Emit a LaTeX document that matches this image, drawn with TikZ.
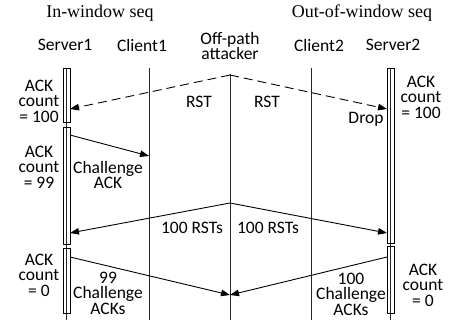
\documentclass[tikz,border=0pt]{standalone}
\usepackage{fontspec}
\setmainfont{Liberation Serif}
\setsansfont{Carlito}
\usetikzlibrary{positioning,arrows.meta}

\begin{document}
\begin{tikzpicture}[
    x=1pt, y=-1pt,
    lifeline/.style={line width=0.8pt, black!85},
    actbox/.style={draw, line width=0.7pt},
    msg/.style={-{Triangle[length=9pt, width=6.5pt]}, line width=0.9pt},
    rstmsg/.style={msg, dash pattern=on 9pt off 5pt},
    txt/.style={font=\sffamily\fontsize{17.5}{15.5}\selectfont, align=center, inner sep=0pt},
    head/.style={font=\rmfamily\fontsize{18}{20}\selectfont, inner sep=0pt}
]
\useasboundingbox (0,0) rectangle (453,322);

% Headers
\node[head] (inwin) at (100,13) {In-window seq};
\node[head] (outwin) at (362,13) {Out-of-window seq};

% Roles
\node[txt] (server1) at (65,45) {Server1};
\node[txt] (client1) at (142,45) {Client1};
\node[txt] (attacker) at (230,46) {Off-path\\attacker};
\node[txt] (client2) at (319,45) {Client2};
\node[txt] (server2) at (393,45) {Server2};

% Lifelines
\draw[lifeline] (66.5,68) -- (66.5,320);
\draw[lifeline] (149,68) -- (149,320);
\draw[lifeline] (230,74) -- (230,320);
\draw[lifeline] (311,68) -- (311,320);
\draw[lifeline] (390.5,68) -- (390.5,320);

% Activation boxes
\draw[actbox] (63,68) rectangle (70,122);
\draw[actbox] (63,127) rectangle (70,244);
\draw[actbox] (63,248) rectangle (70,313);
\draw[actbox] (387,68) rectangle (394,243);
\draw[actbox] (387,246) rectangle (394,313);

% Message ends
\coordinate (atk rst) at (230,75);
\coordinate (s1 rst) at (70,109);
\coordinate (s2 rst) at (387,109);
\coordinate (s1 chal) at (70,135);
\coordinate (c1 chal) at (149,156);
\coordinate (atk flood) at (230,203);
\coordinate (s1 flood) at (70,233);
\coordinate (s2 flood) at (387,233);
\coordinate (s1 acks) at (70,257);
\coordinate (s2 acks) at (387,257);
\coordinate (atk acks) at (230,295);

% Messages
\draw[rstmsg] (atk rst) -- (s1 rst);
\draw[rstmsg] (atk rst) -- (s2 rst);
\draw[msg] (s1 chal) -- (c1 chal);
\draw[msg] (atk flood) -- (s1 flood);
\draw[msg] (atk flood) -- (s2 flood);
\draw[msg] (s1 acks) -- (atk acks);
\draw[msg] (s2 acks) -- (atk acks);

% Labels
\node[txt] (cnt1) at (39,101) {ACK\\count\\= 100};
\node[txt] (cnt2) at (421,97) {ACK\\count\\= 100};
\node[txt] (rst1) at (199,102) {RST};
\node[txt] (rst2) at (267,102) {RST};
\node[txt] (drop) at (366,119) {Drop};
\node[txt] (cnt3) at (39,167) {ACK\\count\\= 99};
\node[txt] (chal) at (108,175) {Challenge\\ACK};
\node[txt] (flood1) at (192,228) {100 RSTs};
\node[txt] (flood2) at (268,228) {100 RSTs};
\node[txt] (cnt4) at (39,275) {ACK\\count\\= 0};
\node[txt] (acks1) at (108,293) {99\\Challenge\\ACKs};
\node[txt] (cnt5) at (423,285) {ACK\\count\\= 0};
\node[txt] (acks2) at (351,294) {100\\Challenge\\ACKs};

\end{tikzpicture}
\end{document}
